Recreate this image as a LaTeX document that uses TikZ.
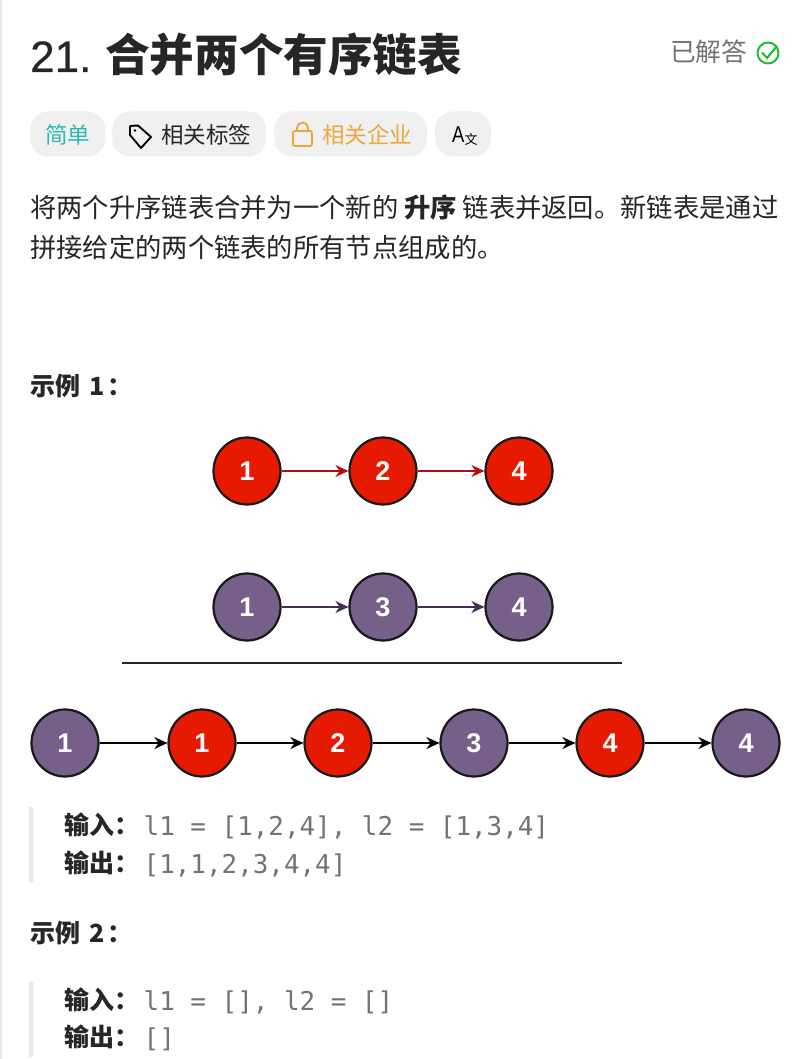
\documentclass[tikz,border=0pt]{standalone}
\usepackage{fontspec}
\setmainfont{Noto Sans CJK SC}
\setmonofont{DejaVu Sans Mono}
\newfontfamily\latinfont{Liberation Sans}
\newfontfamily\titlefont[FakeBold=0.5]{Liberation Sans}
\usetikzlibrary{arrows.meta,positioning}
\definecolor{redfill}{HTML}{E51A00}
\definecolor{redline}{HTML}{B20D0D}
\definecolor{purplefill}{HTML}{76608A}
\definecolor{purpleline}{HTML}{432D57}
\definecolor{ink}{HTML}{262626}
\definecolor{pillgray}{HTML}{F0F0F0}
\definecolor{barline}{HTML}{E8E8E8}
\definecolor{teal}{HTML}{2DB8B8}
\definecolor{amber}{HTML}{EBA83A}
\definecolor{okgreen}{HTML}{1DB92F}
\newcommand{\fs}[1]{\fontsize{#1}{#1}\selectfont}

\begin{document}
\begin{tikzpicture}[x=1pt,y=-1pt,
  body/.style={anchor=base west,inner sep=0pt,text=ink,font=\fs{26.3}},
  heading/.style={anchor=base west,inner sep=0pt,text=ink,font=\fs{25}\bfseries},
  codeline/.style={anchor=base west,inner sep=0pt,text=black!55,font=\fs{25.9}\ttfamily},
  pill/.style={fill=pillgray,rounded corners=18pt,minimum height=45pt,inner sep=0pt,anchor=west},
  pilltext/.style={anchor=base west,inner sep=0pt,font=\fs{22.5}},
  listnode/.style={circle,draw=black!90,line width=2.2pt,minimum size=67pt,inner sep=0pt,
                   text=white,font=\latinfont\fs{27}\bfseries},
  rednode/.style={listnode,fill=redfill},
  purplenode/.style={listnode,fill=purplefill},
  link/.style={-{Stealth[length=13pt,width=12pt]},line width=1.6pt},
  bar/.style={draw=barline,line width=3.5pt}]
\useasboundingbox (0,0) rectangle (810,1059);
\fill[white] (0,0) rectangle (810,1059);
\coordinate (edgeT) at (1,0); \coordinate (edgeB) at (1,1059);
\draw[barline,line width=1.5pt] (edgeT)--(edgeB);

\node[anchor=base west,inner sep=0pt,text=ink,font=\titlefont\fs{44}] (titlenum) at (30,72){21.};
\node[anchor=base west,inner sep=0pt,text=ink,font=\fs{44.6}\bfseries] (title) at (105,72){合并两个有序链表};
\node[anchor=base west,inner sep=0pt,text=black!55,font=\fs{25.7}] (solved) at (670,62){已解答};
\node[circle,draw=okgreen,line width=1.9pt,minimum size=21pt,inner sep=0pt] (okring) at (768,53){};
\draw[okgreen,line width=2pt] (762,52.5)--(767,58)--(777,46);

\node[pill,minimum width=75pt] (pillA) at (30,134){};
\node[pill,minimum width=154pt] (pillB) at (112,134){};
\node[pill,minimum width=153pt] (pillC) at (274,134){};
\node[pill,minimum width=56pt] (pillD) at (435,134){};
\node[pilltext,text=teal] (easy) at (45,144){简单};
\node[pilltext,text=ink] (tags) at (161,144){相关标签};
\node[pilltext,text=amber] (company) at (322,144){相关企业};
\draw[black,line width=1.9pt,line join=round] (130,126)--(138,125.5)--(151,137)--(141,148)--(130,135)--cycle;
\fill (135,130.5) circle (1.3pt);
\draw[amber,line width=1.9pt,rounded corners=2pt] (293,131) rectangle (312,146);
\draw[amber,line width=1.9pt] (297,131)--(297,128) arc[start angle=180,end angle=0,radius=5.5pt]--(308,131);
\node[anchor=base west,inner sep=0pt,text=black,xscale=.8,font=\latinfont\fs{23}] (transA) at (452,143){A};
\node[anchor=base west,inner sep=0pt,text=black,font=\fs{13}] (transB) at (464.5,145){文};

\node[body] (descA) at (30,218){将两个升序链表合并为一个新的 \textbf{升序} 链表并返回。新链表是通过};
\node[body] (descB) at (30,257){拼接给定的两个链表的所有节点组成的。};

\node[heading] (exA) at (30,395){示例 \kern4pt 1\kern2pt：};

\foreach \i/\x/\v in {1/247/1,2/383/2,3/519/4}
  \node[rednode] (r\i) at (\x,471){\v};
\foreach \i/\x/\v in {1/247/1,2/383/3,3/519/4}
  \node[purplenode] (p\i) at (\x,607){\v};
\draw[link,redline] (r1)--(r2);
\draw[link,redline] (r2)--(r3);
\draw[link,purpleline] (p1)--(p2);
\draw[link,purpleline] (p2)--(p3);

\coordinate (ruleL) at (122,663); \coordinate (ruleR) at (622,663);
\draw[black!85,line width=2.6pt] (ruleL)--(ruleR);

\node[purplenode] (m1) at (65,743){1};
\node[rednode] (m2) at (202,743){1};
\node[rednode] (m3) at (338,743){2};
\node[purplenode] (m4) at (474,743){3};
\node[rednode] (m5) at (610,743){4};
\node[purplenode] (m6) at (746,743){4};
\foreach \a/\b in {m1/m2,m2/m3,m3/m4,m4/m5,m5/m6}
  \draw[link,black] (\a)--(\b);

\coordinate (barAT) at (31,807); \coordinate (barAB) at (31,882);
\draw[bar] (barAT)--(barAB);
\node[heading] (inA) at (64,834){输入：};
\node[codeline] (inAcode) at (143.5,835){l1 = [1,2,4], l2 = [1,3,4]};
\node[heading] (outA) at (64,872){输出：};
\node[codeline] (outAcode) at (143.5,873){[1,1,2,3,4,4]};

\node[heading] (exB) at (30,942){示例 \kern4pt 2\kern2pt：};

\coordinate (barBT) at (31,982); \coordinate (barBB) at (31,1057);
\draw[bar] (barBT)--(barBB);
\node[heading] (inB) at (64,1009){输入：};
\node[codeline] (inBcode) at (143.5,1010){l1 = [], l2 = []};
\node[heading] (outB) at (64,1046){输出：};
\node[codeline] (outBcode) at (143.5,1047){[]};
\end{tikzpicture}
\end{document}
